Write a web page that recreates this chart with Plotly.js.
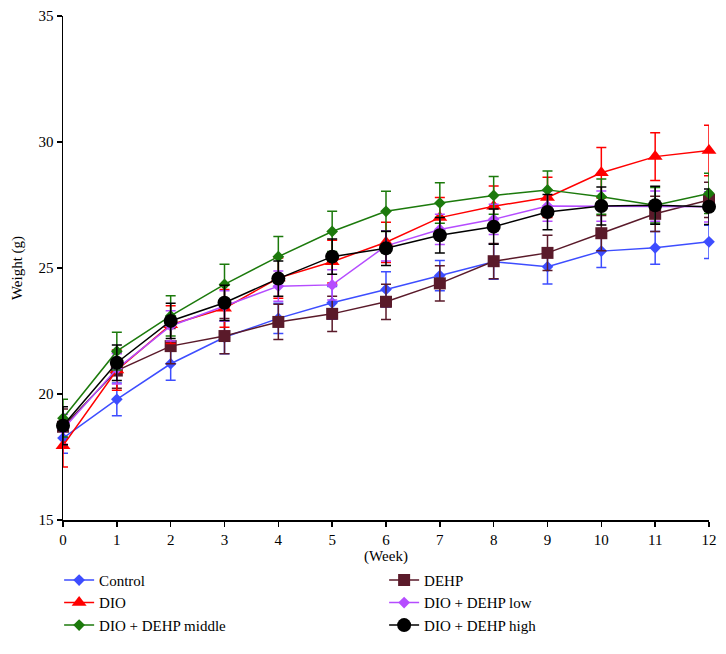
<!DOCTYPE html>
<html>
<head>
<meta charset="utf-8">
<script src="https://cdn.plot.ly/plotly-3.0.1.min.js"></script>
<style>html,body{margin:0;padding:0;background:#fff;}#chart{width:726px;height:654px;}</style>
</head>
<body>
<div id="chart"></div>
<script>
const weeks = [0,1,2,3,4,5,6,7,8,9,10,11,12];
const seriesNames = ["Control","DIO","DIO + DEHP middle","DEHP","DIO + DEHP low","DIO + DEHP high"];

const control    = [18.25,19.79,21.2,22.25,23.0,23.62,24.15,24.7,25.25,25.05,25.67,25.8,26.04];
const controlErr = [0.6,0.65,0.65,0.65,0.6,0.65,0.7,0.6,0.7,0.68,0.65,0.65,0.66];

const dio    = [17.95,20.95,22.75,23.4,24.6,25.25,26.02,27.0,27.45,27.8,28.78,29.42,29.66];
const dioErr = [0.85,0.8,0.75,0.75,0.8,0.85,0.8,0.8,0.8,0.8,1.0,0.95,1.0];

const middle    = [19.04,21.7,23.1,24.35,25.45,26.45,27.25,27.58,27.88,28.1,27.83,27.49,27.96];
const middleErr = [0.75,0.75,0.8,0.8,0.8,0.8,0.8,0.8,0.75,0.75,0.7,0.7,0.8];

const dehp    = [18.7,20.93,21.9,22.3,22.86,23.18,23.66,24.39,25.27,25.6,26.38,27.15,27.7];
const dehpErr = [0.7,0.7,0.7,0.7,0.7,0.7,0.7,0.7,0.7,0.7,0.7,0.7,0.7];

const low    = [18.6,21.0,22.7,23.5,24.28,24.33,25.88,26.53,26.93,27.46,27.46,27.46,27.43];
const lowErr = [0.6,0.6,0.6,0.6,0.6,0.6,0.6,0.6,0.6,0.6,0.6,0.6,0.6];

const high    = [18.74,21.24,22.9,23.62,24.58,25.45,25.78,26.3,26.64,27.22,27.46,27.49,27.43];
const highErr = [0.75,0.7,0.7,0.7,0.7,0.7,0.68,0.7,0.7,0.7,0.75,0.75,0.7];

const colors = {
  control: "#3d4dff",
  dio: "#ff0000",
  middle: "#1c7a0c",
  dehp: "#5a1a2a",
  low: "#b54cff",
  high: "#000000"
};

const serif = "Liberation Serif, Times New Roman, serif";

function tr(name, y, err, color, symbol, size, rank) {
  return {
    type: "scatter", mode: "lines+markers", name: name,
    x: weeks, y: y, cliponaxis: false, legendrank: rank,
    line: {color: color, width: 1.5},
    marker: {color: color, symbol: symbol, size: size},
    error_y: {type: "data", array: err, visible: true, color: color, thickness: 1.5, width: 5}
  };
}

const data = [
  tr(seriesNames[0], control, controlErr, colors.control, "diamond", 9, 1),
  tr(seriesNames[3], dehp, dehpErr, colors.dehp, "square", 12, 2),
  tr(seriesNames[1], dio, dioErr, colors.dio, "triangle-up", 13, 3),
  tr(seriesNames[4], low, lowErr, colors.low, "diamond", 9, 4),
  tr(seriesNames[2], middle, middleErr, colors.middle, "diamond", 9, 5),
  tr(seriesNames[5], high, highErr, colors.high, "circle", 14, 6)
];

const layout = {
  width: 726, height: 654,
  margin: {l: 63, r: 17, t: 16, b: 134},
  paper_bgcolor: "#fff", plot_bgcolor: "#fff",
  font: {family: serif, color: "#000", size: 15},
  showlegend: true,
  legend: {
    orientation: "h", x: -0.006, xanchor: "left", y: -0.087, yanchor: "top",
    entrywidth: 280, entrywidthmode: "pixels",
    traceorder: "normal",
    font: {family: serif, size: 15, color: "#000"},
    itemwidth: 30, tracegroupgap: 0
  },
  xaxis: {
    range: [0, 12], tickvals: weeks, ticktext: weeks.map(String),
    showline: true, linecolor: "#000", linewidth: 1.5,
    ticks: "outside", ticklen: 5, tickwidth: 1.5, tickcolor: "#000",
    showgrid: false, zeroline: false,
    tickfont: {size: 15, family: serif},
    title: {text: "(Week)", font: {size: 15, family: serif}, standoff: 0}
  },
  yaxis: {
    range: [15, 35], tickvals: [15,20,25,30,35],
    showline: true, linecolor: "#000", linewidth: 1.5,
    ticks: "outside", ticklen: 5, tickwidth: 1.5, tickcolor: "#000",
    showgrid: false, zeroline: false,
    tickfont: {size: 15, family: serif},
    title: {text: "Weight (g)", font: {size: 15, family: serif}, standoff: 12}
  }
};

Plotly.newPlot("chart", data, layout, {displayModeBar: false, staticPlot: true});
</script>
</body>
</html>
